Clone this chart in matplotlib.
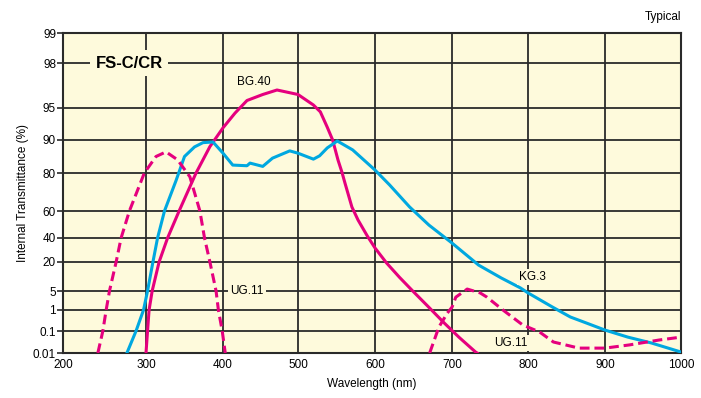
import numpy as np
import matplotlib
matplotlib.use("Agg")
import matplotlib.pyplot as plt

# ---------------- data ----------------
x_ticks = [200, 300, 400, 500, 600, 700, 800, 900, 1000]
y_ticks = [0.01, 0.1, 1, 5, 20, 40, 60, 80, 90, 95, 98, 99]
y_tick_labels = ["0.01", "0.1", "1", "5", "20", "40", "60", "80", "90", "95", "98", "99"]

bg40_wl = [300, 302, 304, 308, 317, 328, 343, 365, 383, 400, 416, 432, 453, 472, 500,
           520, 529, 538, 545, 552, 557, 561, 570, 578, 590, 600, 615, 632, 649, 671,
           690, 709, 731, 733]
bg40_t = [0.01, 0.1, 1, 5, 20, 40, 60, 80, 88, 91.9, 94.2, 95.5, 95.9, 96.2, 95.9,
          95.2, 94.4, 92, 90, 83.9, 80.3, 74.7, 62.1, 53.3, 41.5, 31.7, 19.5, 12, 5, 1.4,
          0.44, 0.075, 0.014, 0.01]

kg3_wl = [277, 288, 297, 302, 309, 315, 324, 339, 350, 363, 374, 387, 400, 413, 432,
          436, 453, 466, 489, 500, 520, 528, 538, 551, 571, 600, 619, 645, 670, 700,
          735, 765, 790, 800, 832, 855, 876, 900, 930, 961, 1000]
kg3_t = [0.01, 0.1, 1, 5, 20, 40, 60, 76, 85, 87.9, 89.2, 89.4, 86, 82.4, 82.2,
         83, 82, 84.5, 86.7, 86, 84.2, 85.2, 87.6, 89.7, 87, 80.9, 73.7, 62.1, 49.6, 35.8,
         18.4, 11.7, 6.6, 4.6, 1.6, 0.7, 0.44, 0.14, 0.075, 0.051, 0.014]

ug11a_wl = [242, 248, 252, 256, 264, 270, 280, 298, 313, 326, 341, 357, 370, 376,
            383, 391, 394, 399, 403]
ug11a_t = [0.01, 0.1, 1, 5, 20, 40, 60, 80, 85, 86.4, 84, 78, 60, 40,
           20, 5, 1, 0.1, 0.01]

ug11b_wl = [671, 683, 694, 700, 705, 720, 737, 746, 767, 793, 815, 833, 866, 900,
            932, 971, 1000]
ug11b_t = [0.01, 0.27, 0.87, 1.6, 3.7, 6.0, 4.6, 3.7, 1, 0.36, 0.096, 0.055, 0.03, 0.03,
           0.043, 0.063, 0.075]

# axis geometry of the printed chart (relative tick positions, px)
x_scale_pos = np.array([0, 83, 160, 235, 312, 389, 465, 542, 618], dtype=float)
y_scale_pos = np.array([0, 22, 43, 62, 91, 115, 142, 180, 213, 245, 290, 320], dtype=float)
x_scale_vals = np.array(x_ticks, dtype=float)
y_scale_vals = np.array(y_ticks, dtype=float)


def xf(v):
    return np.interp(np.asarray(v, dtype=float), x_scale_vals, x_scale_pos)


def xi(h):
    return np.interp(np.asarray(h, dtype=float), x_scale_pos, x_scale_vals)


def yf(v):
    return np.interp(np.asarray(v, dtype=float), y_scale_vals, y_scale_pos)


def yi(h):
    return np.interp(np.asarray(h, dtype=float), y_scale_pos, y_scale_vals)


# ---------------- style ----------------
BG = "#FEFADC"
MAG = "#E5007E"
CYAN = "#00A8E0"
GRID = "#2a2a2a"
plt.rcParams["font.family"] = ["Liberation Sans", "DejaVu Sans"]

fig = plt.figure(figsize=(7.01, 3.98), dpi=100)
ax = fig.add_axes([63 / 701, 1 - 353 / 398, (681 - 63) / 701, (353 - 33) / 398])
ax.set_facecolor(BG)
ax.set_xscale("function", functions=(xf, xi))
ax.set_yscale("function", functions=(yf, yi))
ax.set_xlim(200, 1000)
ax.set_ylim(0.01, 99)

ax.set_xticks(x_ticks)
ax.set_xticklabels([str(v) for v in x_ticks], fontsize=8.5)
ax.set_yticks(y_ticks)
ax.set_yticklabels(y_tick_labels, fontsize=8.5)
ax.xaxis.set_minor_locator(matplotlib.ticker.NullLocator())
ax.yaxis.set_minor_locator(matplotlib.ticker.NullLocator())
ax.tick_params(axis="x", length=0, pad=4)
ax.tick_params(axis="y", length=4, width=1.2, color=GRID, pad=1)
ax.grid(True, color=GRID, linewidth=1.3)
ax.set_axisbelow(True)
for s in ax.spines.values():
    s.set_color(GRID)
    s.set_linewidth(1.5)

lw = 2.2
ax.plot(bg40_wl, bg40_t, color=MAG, lw=lw, zorder=3, solid_joinstyle="round")
ax.plot(kg3_wl, kg3_t, color=CYAN, lw=lw, zorder=3, solid_joinstyle="round")
dash = (0, (3.2, 1.6))
ax.plot(ug11a_wl, ug11a_t, color=MAG, lw=lw, ls=dash, zorder=3)
ax.plot(ug11b_wl, ug11b_t, color=MAG, lw=lw, ls=dash, zorder=3)

ax.set_xlabel("Wavelength (nm)", fontsize=8.5, labelpad=5)
ax.set_ylabel("Internal Transmittance (%)", fontsize=8.5, labelpad=3)

box = dict(facecolor=BG, edgecolor="none", pad=1.5)
ax.text(280, 98, "FS-C/CR", fontsize=12, fontweight="bold", ha="center", va="center",
        zorder=4, bbox=dict(facecolor=BG, edgecolor="none", pad=4))
ax.text(441, 96.7, "BG.40", fontsize=8.5, ha="center", va="center", zorder=4)
ax.text(432, 5, "UG.11", fontsize=8.5, ha="center", va="center", zorder=4, bbox=box)
ax.text(806, 12.2, "KG.3", fontsize=8.5, ha="center", va="center", zorder=4, bbox=box)
ax.text(778, 0.051, "UG.11", fontsize=8.5, ha="center", va="center", zorder=4, bbox=box)

fig.text(681 / 701, 1 - 17 / 398, "Typical", fontsize=8.5, ha="right", va="center")

fig.savefig("out.png", dpi=100)
